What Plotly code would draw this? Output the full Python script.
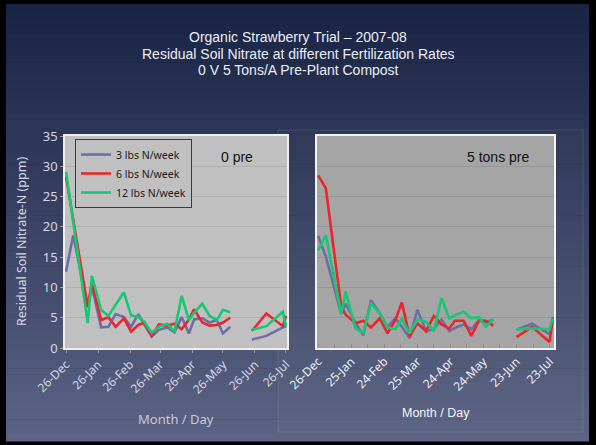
import plotly.graph_objects as go

# ---------------- data ----------------
dates = ["2007-12-26", "2008-01-02", "2008-01-16", "2008-01-20", "2008-01-29",
         "2008-02-05", "2008-02-12", "2008-02-20", "2008-02-27", "2008-03-05",
         "2008-03-11", "2008-03-18", "2008-03-25", "2008-04-02", "2008-04-09",
         "2008-04-16", "2008-04-23", "2008-04-28", "2008-05-06", "2008-05-13",
         "2008-05-20", "2008-05-26", "2008-06-02", "2008-06-13", "2008-06-23",
         "2008-07-07", "2008-07-23", "2008-07-26"]

series_names = ["3 lbs N/week", "6 lbs N/week", "12 lbs N/week"]

# 0 pre
n3_0pre = [12.6, 18.6, 6.7, 10.2, 3.4, 3.5, 5.6, 5.1, 3.5, 5.6, 3.8, 1.9, 3.0, 3.4,
           2.6, 5.1, 2.4, 4.7, 4.9, 4.2, 4.6, 2.4, 3.5, None, 1.4, 2.0, 3.4, 3.6]
n6_0pre = [28.3, 21.0, 6.8, 10.8, 4.6, 5.1, 3.5, 4.9, 2.7, 3.8, 4.2, 2.0, 3.9, 3.7,
           4.0, 3.1, 4.7, 6.4, 4.2, 3.7, 3.8, 4.2, 5.0, None, 2.8, 5.7, 3.6, 5.3]
n12_0pre = [29.1, 21.0, 4.1, 11.9, 6.3, 5.3, 7.2, 9.2, 5.4, 5.1, 4.3, 2.5, 3.5, 4.0,
            2.7, 8.6, 4.6, 5.8, 7.3, 5.3, 4.6, 6.3, 5.9, None, 3.0, 3.6, 6.0, 3.5]

# 5 tons pre
n3_5t = [18.5, 15.1, 5.6, 7.3, 4.1, 2.1, 7.9, 5.7, 3.5, 4.9, 3.5, 1.6, 6.3, 2.7,
         3.2, 4.7, 2.8, 3.3, 3.9, 3.1, 4.6, 4.2, 4.7, None, 3.0, 4.0, 2.3, 4.3]
n6_5t = [28.5, 26.4, 6.8, 5.5, 4.1, 4.5, 3.4, 4.9, 2.4, 4.6, 7.5, 1.9, 4.1, 2.8,
         5.3, 3.9, 3.2, 4.5, 4.5, 2.0, 4.5, 4.5, 3.7, None, 1.8, 3.5, 1.0, 5.1]
n12_5t = [16.1, 18.6, 5.6, 9.3, 3.2, 2.5, 7.4, 5.6, 3.4, 3.1, 4.8, 2.4, 4.7, 4.3,
          2.8, 8.2, 4.9, 5.4, 6.0, 4.9, 5.1, 3.5, 4.7, None, 3.1, 3.2, 3.1, 4.9]

left_tickvals = ["2007-12-26", "2008-01-26", "2008-02-26", "2008-03-26",
                 "2008-04-26", "2008-05-26", "2008-06-26", "2008-07-26"]
left_ticktext = ["26-Dec", "26-Jan", "26-Feb", "26-Mar", "26-Apr", "26-May", "26-Jun", "26-Jul"]
right_tickvals = ["2007-12-26", "2008-01-25", "2008-02-24", "2008-03-25",
                  "2008-04-24", "2008-05-24", "2008-06-23", "2008-07-23"]
right_ticktext = ["26-Dec", "25-Jan", "24-Feb", "25-Mar", "24-Apr", "24-May", "23-Jun", "23-Jul"]

colors = ["#6e6ea6", "#e8262c", "#17c774"]

W, H = 596, 445
def px(x): return x / W
def py(y): return 1 - y / H

fig = go.Figure()
for i, (name, ys) in enumerate(zip(series_names, [n3_0pre, n6_0pre, n12_0pre])):
    fig.add_trace(go.Scatter(x=dates, y=ys, mode="lines", name=name,
                             line=dict(color=colors[i], width=2.6),
                             connectgaps=False, xaxis="x", yaxis="y"))
for i, (name, ys) in enumerate(zip(series_names, [n3_5t, n6_5t, n12_5t])):
    fig.add_trace(go.Scatter(x=dates, y=ys, mode="lines", name=name,
                             line=dict(color=colors[i], width=2.6),
                             connectgaps=False, showlegend=False, xaxis="x2", yaxis="y2"))

# ---------------- background (slide gradient) ----------------
shapes = []
top_c = (26, 36, 68)
bot_c = (92, 99, 132)
y0s, y1s = 4, 441
n = 60
for k in range(n):
    t = k / (n - 1)
    c = tuple(int(top_c[j] + (bot_c[j] - top_c[j]) * t) for j in range(3))
    ya = y0s + (y1s - y0s) * k / n
    yb = y0s + (y1s - y0s) * (k + 1) / n + 0.6
    shapes.append(dict(type="rect", xref="paper", yref="paper",
                       x0=px(6), x1=px(589), y0=py(ya), y1=py(yb),
                       fillcolor="rgb(%d,%d,%d)" % c, line=dict(width=0), layer="below"))
# faint frame of right chart
shapes.append(dict(type="rect", xref="paper", yref="paper",
                   x0=px(278), x1=px(583), y0=py(130), y1=py(432),
                   fillcolor="rgba(255,255,255,0.02)",
                   line=dict(color="rgba(255,255,255,0.10)", width=1), layer="below"))
# plot area backgrounds
shapes.append(dict(type="rect", xref="x domain", yref="y domain", x0=0, x1=1, y0=0, y1=1,
                   fillcolor="#c0c0c0", line=dict(width=0), layer="below"))
shapes.append(dict(type="rect", xref="x2 domain", yref="y2 domain", x0=0, x1=1, y0=0, y1=1,
                   fillcolor="#a5a5a5", line=dict(width=0), layer="below"))

light = "#d4d8e4"
font_ax = "Noto Sans, DejaVu Sans, sans-serif"

xr = ["2007-12-25", "2008-07-27"]
ydom = [py(348), py(136)]

fig.update_layout(
    width=W, height=H,
    margin=dict(l=0, r=0, t=0, b=0, autoexpand=False),
    paper_bgcolor="#000000",
    plot_bgcolor="rgba(0,0,0,0)",
    shapes=shapes,
    showlegend=True,
    legend=dict(x=px(75), y=py(139), xanchor="left", yanchor="top",
                bgcolor="#c0c0c0", bordercolor="#3a3a3a", borderwidth=1,
                font=dict(family=font_ax, size=10.5, color="#1a1a1a"),
                tracegroupgap=0, itemwidth=30),
    xaxis=dict(domain=[px(65), px(287)], type="date", range=xr, anchor="y", automargin=False,
               tickmode="array", tickvals=left_tickvals, ticktext=left_ticktext,
               tickangle=-45, tickfont=dict(family=font_ax, size=12, color=light),
               ticks="outside", ticklen=3, tickcolor="#9a9a9a",
               showline=True, linecolor="#f0f0f0", linewidth=1.5, mirror=True,
               showgrid=False, zeroline=False),
    yaxis=dict(domain=ydom, range=[0, 35], dtick=5, anchor="x", automargin=False,
               tickfont=dict(family=font_ax, size=13, color=light),
               ticks="outside", ticklen=3, tickcolor="#9a9a9a",
               showline=True, linecolor="#f0f0f0", linewidth=1.5, mirror=True,
               showgrid=True, gridcolor="#aeaeae", gridwidth=1, zeroline=False),
    xaxis2=dict(domain=[px(317), px(554)], type="date", range=xr, anchor="y2", automargin=False,
                tickmode="array", tickvals=right_tickvals, ticktext=right_ticktext,
                tickangle=-45, tickfont=dict(family=font_ax, size=12, color="#eef0f6"),
                ticks="inside", ticklen=4, tickcolor="#8c8c8c",
                minor=dict(ticks="inside", ticklen=4, tickcolor="#8c8c8c",
                           dtick=15 * 86400000, tick0="2007-12-26"),
                showline=True, linecolor="#f4f4f4", linewidth=1.5, mirror=True,
                showgrid=False, zeroline=False),
    yaxis2=dict(domain=ydom, range=[0, 35], dtick=5, anchor="x2", automargin=False,
                showticklabels=False, ticks="",
                showline=True, linecolor="#f4f4f4", linewidth=1.5, mirror=True,
                showgrid=True, gridcolor="#979797", gridwidth=1, zeroline=False),
)

title_lines = ["Organic Strawberry Trial \u2013 2007-08",
               "Residual Soil Nitrate at different Fertilization Rates",
               "0 V 5 Tons/A Pre-Plant Compost"]
ann = []
for i, t in enumerate(title_lines):
    ann.append(dict(text=t, x=0.5, y=py(37 + 16.5 * i), xref="paper", yref="paper",
                    showarrow=False, xanchor="center", yanchor="middle",
                    font=dict(family="Liberation Sans, Arial, sans-serif", size=14, color="#eceef4")))
ann.append(dict(text="Residual Soil Nitrate-N (ppm)", x=px(22), y=py(242),
                xref="paper", yref="paper", showarrow=False, textangle=-90,
                xanchor="center", yanchor="middle",
                font=dict(family=font_ax, size=12.5, color=light)))
ann.append(dict(text="Month / Day", x=px(176), y=py(419), xref="paper", yref="paper",
                showarrow=False, xanchor="center", yanchor="middle",
                font=dict(family=font_ax, size=13, color="#c6cad8")))
ann.append(dict(text="Month / Day", x=px(436), y=py(413), xref="paper", yref="paper",
                showarrow=False, xanchor="center", yanchor="middle",
                font=dict(family="Liberation Sans, Arial, sans-serif", size=12.5, color="#f2f4f8")))
ann.append(dict(text="0 pre", x=px(237), y=py(157), xref="paper", yref="paper",
                showarrow=False, xanchor="center", yanchor="middle",
                font=dict(family="Liberation Sans, Arial, sans-serif", size=14, color="#111111")))
ann.append(dict(text="5 tons pre", x=px(498), y=py(157), xref="paper", yref="paper",
                showarrow=False, xanchor="center", yanchor="middle",
                font=dict(family="Liberation Sans, Arial, sans-serif", size=14, color="#111111")))
fig.update_layout(annotations=ann)

fig.write_html("out.html", config={"displayModeBar": False},
               post_script="document.body.style.margin='0';document.body.style.overflow='hidden';")
